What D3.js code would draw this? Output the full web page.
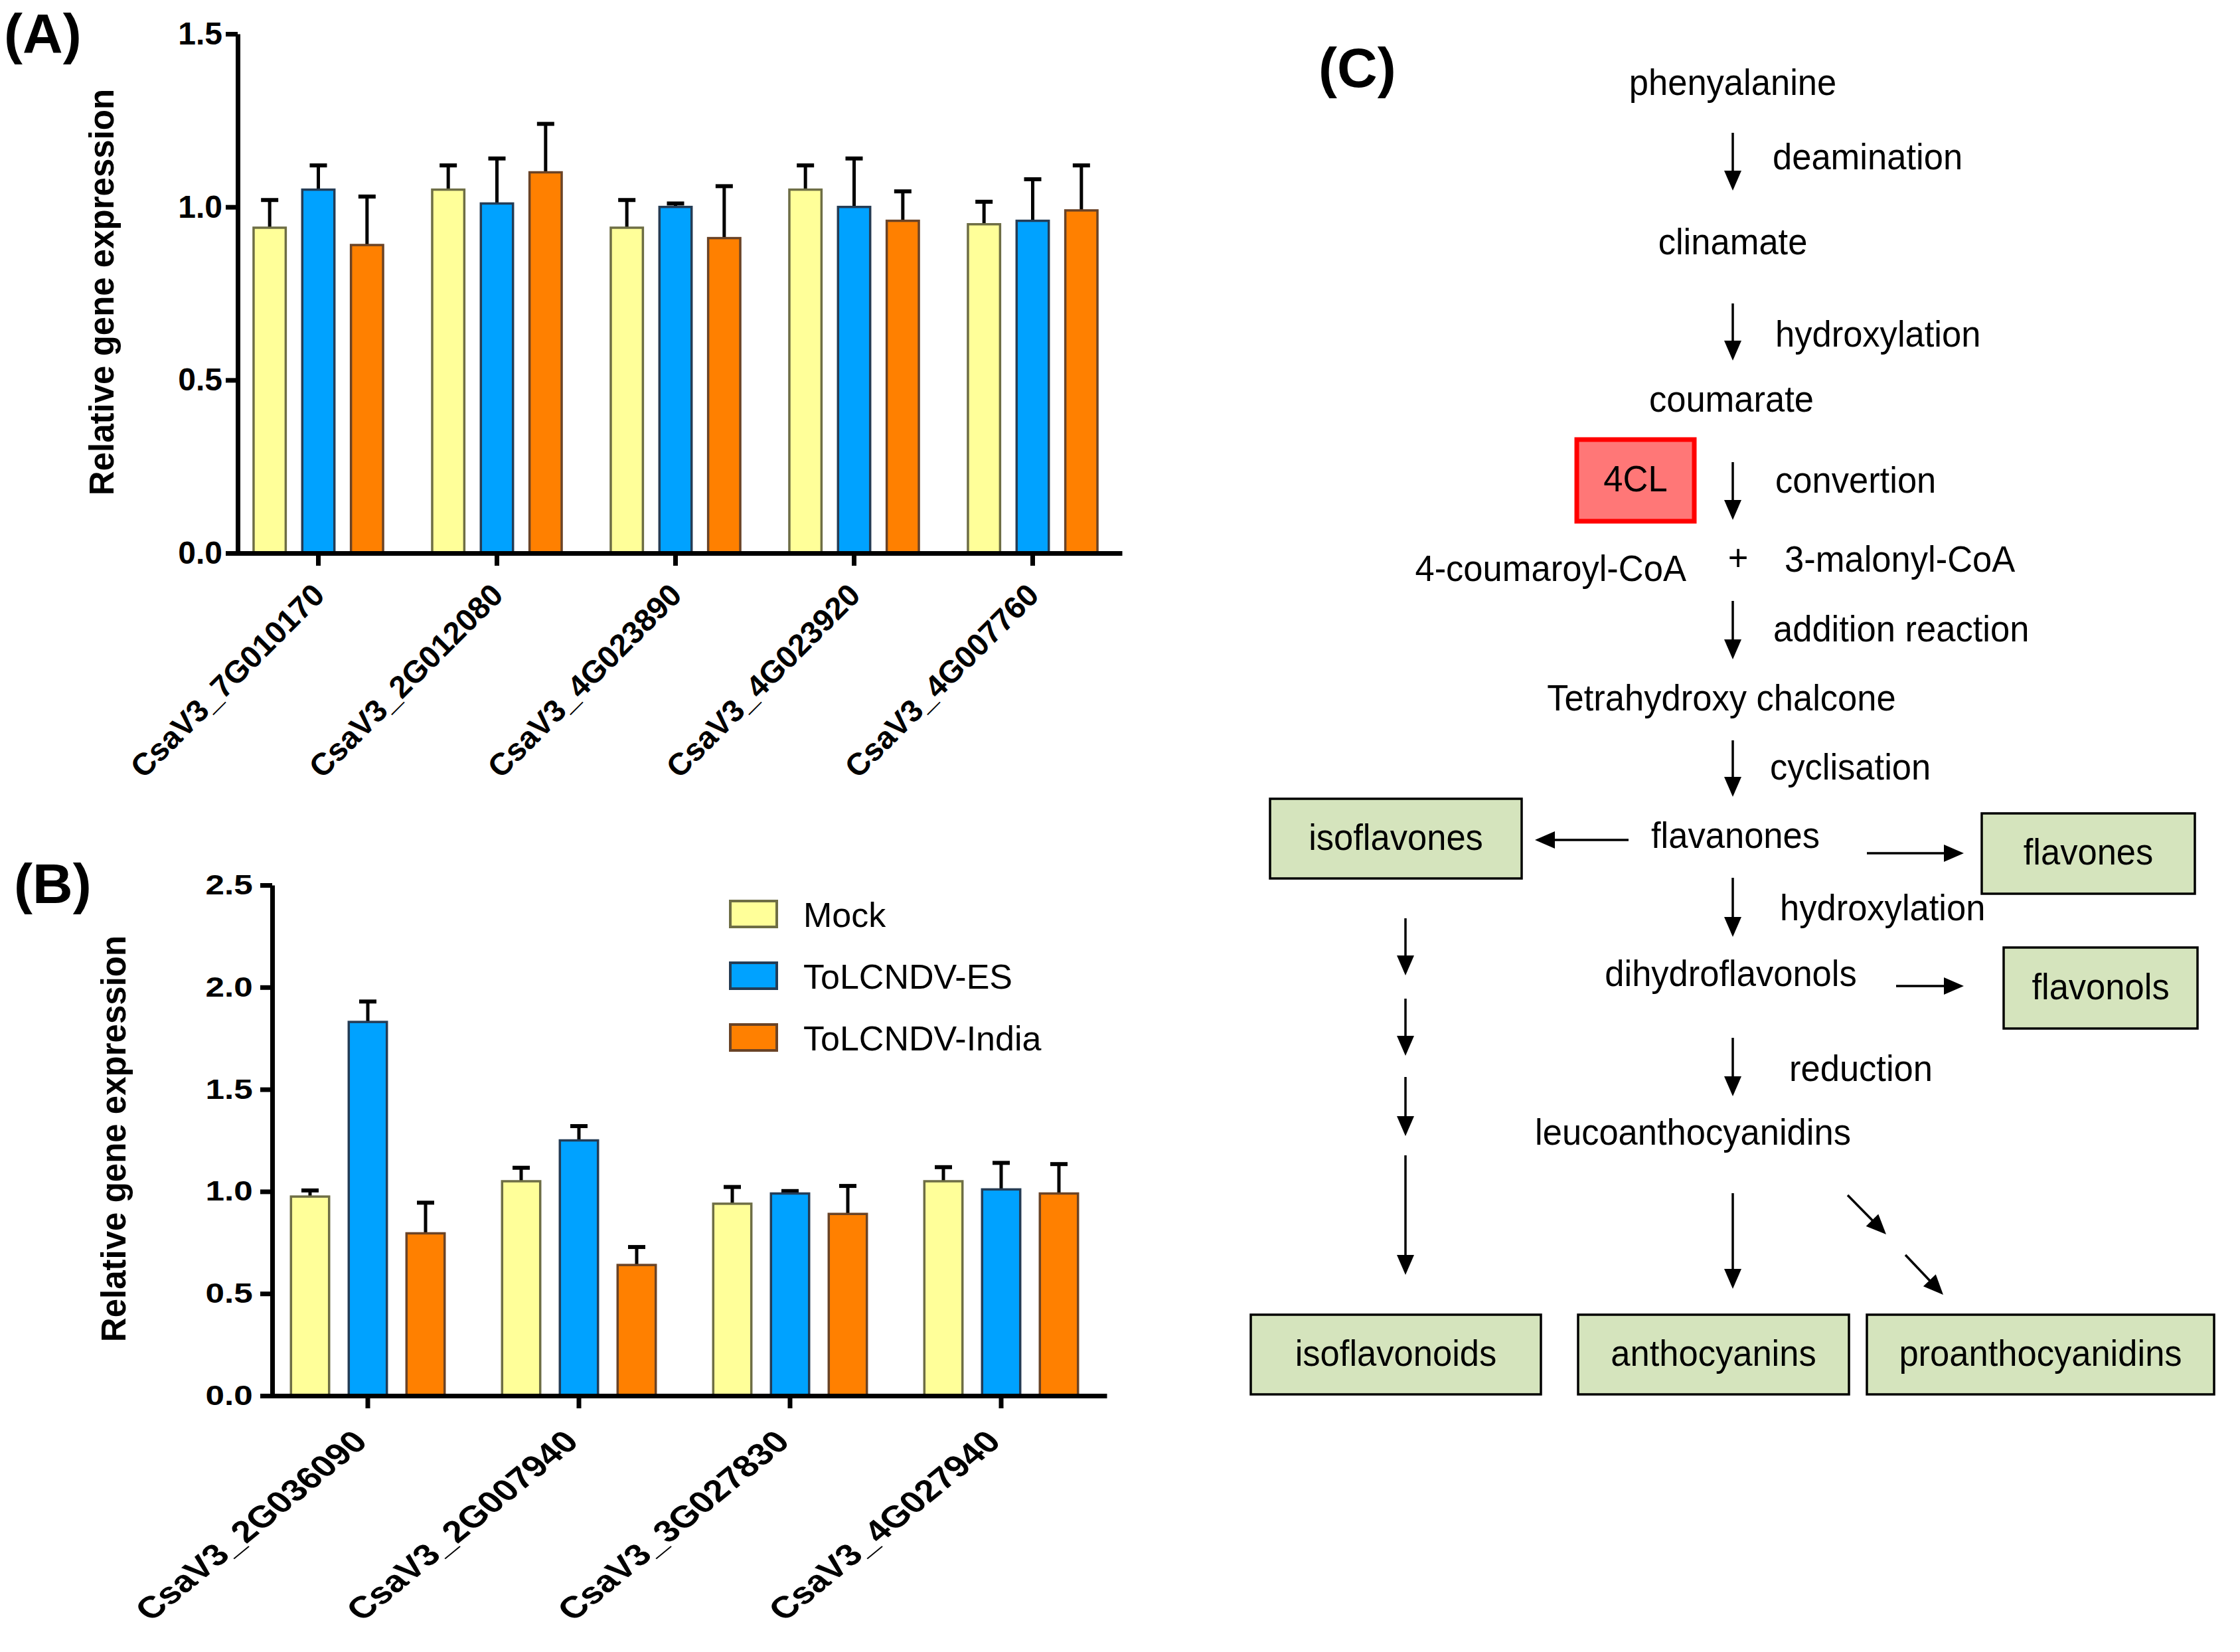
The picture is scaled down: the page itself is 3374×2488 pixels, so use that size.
<!DOCTYPE html>
<html lang="en">
<head>
<meta charset="UTF-8"/>
<title>4CL pathway and gene expression</title>
<script src="https://d3js.org/d3.v7.min.js"></script>
<style>
  body { margin: 0; background: #fff; }
  text { font-family: "Liberation Sans", Arial, sans-serif; fill: #000; }
  .axis path, .axis line { stroke: #000; stroke-width: 7px; fill: none; }
</style>
</head>
<body>
<svg id="fig" width="3374" height="2488"></svg>
<script>

// ---- data ----
var series = ["Mock", "ToLCNDV-ES", "ToLCNDV-India"]
var seriesFill = ["#ffff99", "#00a2ff", "#ff8000"]
var seriesEdge = ["#6e6e45", "#243c55", "#6a4326"]

// panel A
var genesA = ["CsaV3_7G010170", "CsaV3_2G012080", "CsaV3_4G023890", "CsaV3_4G023920", "CsaV3_4G007760"]
var mockA = [0.94, 1.05, 0.94, 1.05, 0.95]
var mockErrA = [0.08, 0.07, 0.08, 0.07, 0.065]
var esA = [1.05, 1.01, 1.00, 1.00, 0.96]
var esErrA = [0.07, 0.13, 0.01, 0.14, 0.12]
var indiaA = [0.89, 1.10, 0.91, 0.96, 0.99]
var indiaErrA = [0.14, 0.14, 0.15, 0.085, 0.13]
var ticksA = [0, 0.5, 1.0, 1.5]

// panel B
var genesB = ["CsaV3_2G036090", "CsaV3_2G007940", "CsaV3_3G027830", "CsaV3_4G027940"]
var mockB = [0.975, 1.05, 0.94, 1.05]
var mockErrB = [0.03, 0.066, 0.082, 0.069]
var esB = [1.83, 1.25, 0.99, 1.01]
var esErrB = [0.10, 0.07, 0.012, 0.13]
var indiaB = [0.795, 0.64, 0.89, 0.99]
var indiaErrB = [0.15, 0.088, 0.137, 0.144]
var ticksB = [0, 0.5, 1.0, 1.5, 2.0, 2.5]

// panel C: pathway labels
var flowText = [
  {t: "phenyalanine", x: 2610, y: 143, a: "middle"},
  {t: "deamination", x: 2670, y: 255, a: "start"},
  {t: "clinamate", x: 2610, y: 383, a: "middle"},
  {t: "hydroxylation", x: 2674, y: 522, a: "start"},
  {t: "coumarate", x: 2608, y: 620, a: "middle"},
  {t: "convertion", x: 2674, y: 742, a: "start"},
  {t: "4-coumaroyl-CoA", x: 2540, y: 875, a: "end"},
  {t: "+", x: 2618, y: 859, a: "middle"},
  {t: "3-malonyl-CoA", x: 2688, y: 861, a: "start"},
  {t: "addition reaction", x: 2671, y: 966, a: "start"},
  {t: "Tetrahydroxy chalcone", x: 2593, y: 1070, a: "middle"},
  {t: "cyclisation", x: 2666, y: 1174, a: "start"},
  {t: "flavanones", x: 2614, y: 1277, a: "middle"},
  {t: "hydroxylation", x: 2681, y: 1386, a: "start"},
  {t: "dihydroflavonols", x: 2607, y: 1485, a: "middle"},
  {t: "reduction", x: 2695, y: 1628, a: "start"},
  {t: "leucoanthocyanidins", x: 2550, y: 1724, a: "middle"}
]
var flowBoxes = [
  {t: "4CL", x0: 2375, y0: 662, x1: 2552, y1: 785, enzyme: true},
  {t: "isoflavones", x0: 1913, y0: 1203, x1: 2292, y1: 1323},
  {t: "flavones", x0: 2985, y0: 1225, x1: 3306, y1: 1346},
  {t: "flavonols", x0: 3018, y0: 1427, x1: 3310, y1: 1549},
  {t: "isoflavonoids", x0: 1884, y0: 1980, x1: 2321, y1: 2100},
  {t: "anthocyanins", x0: 2377, y0: 1980, x1: 2785, y1: 2100},
  {t: "proanthocyanidins", x0: 2812, y0: 1980, x1: 3335, y1: 2100}
]
var flowArrows = [
  [2610, 200, 2610, 287], [2610, 457, 2610, 543], [2610, 696, 2610, 783],
  [2610, 905, 2610, 993], [2610, 1115, 2610, 1200],
  [2453, 1265, 2312, 1265], [2812, 1285, 2958, 1285],
  [2610, 1322, 2610, 1411], [2856, 1485, 2958, 1485], [2610, 1563, 2610, 1651],
  [2117, 1383, 2117, 1469], [2117, 1504, 2117, 1590], [2117, 1622, 2117, 1711], [2117, 1740, 2117, 1920],
  [2610, 1797, 2610, 1941],
  [2783, 1800, 2841, 1859], [2870, 1890, 2927, 1950]
]

var svg = d3.select("#fig")
svg.append("rect").attr("width", 3374).attr("height", 2488).attr("fill", "#fff")

function panel(o) {
  var g = svg.append("g")
  var x0 = d3.scaleBand().domain(o.genes).range(o.xRange)
  var bw = x0.bandwidth()
  var x1 = d3.scaleBand().domain(series)
    .range([bw / 2 - o.groupHalf, bw / 2 + o.groupHalf])
    .paddingInner(0.34).paddingOuter(0.17)
  var y = d3.scaleLinear().domain([0, o.yMax]).range(o.yRange)

  var flat = []
  o.genes.forEach(function(gn, i) {
    series.forEach(function(s, k) {
      flat.push({gene: gn, s: s, k: k, v: o.vals[k][i], e: o.errs[k][i]})
    })
  })
  var cx = function(d) { return x0(d.gene) + x1(d.s) + x1.bandwidth() / 2 }

  // error bars (upper only)
  g.selectAll(".stem").data(flat).enter().append("line")
    .attr("x1", cx).attr("x2", cx)
    .attr("y1", function(d) { return y(d.v) })
    .attr("y2", function(d) { return y(d.v + d.e) })
    .attr("stroke", "#000").attr("stroke-width", 5)
  g.selectAll(".cap").data(flat).enter().append("line")
    .attr("x1", function(d) { return cx(d) - 13 })
    .attr("x2", function(d) { return cx(d) + 13 })
    .attr("y1", function(d) { return y(d.v + d.e) })
    .attr("y2", function(d) { return y(d.v + d.e) })
    .attr("stroke", "#000").attr("stroke-width", 6)

  g.selectAll(".bar").data(flat).enter().append("rect")
    .attr("x", function(d) { return x0(d.gene) + x1(d.s) })
    .attr("width", x1.bandwidth())
    .attr("y", function(d) { return y(d.v) })
    .attr("height", function(d) { return y(0) - y(d.v) })
    .attr("fill", function(d) { return seriesFill[d.k] })
    .attr("stroke", function(d) { return seriesEdge[d.k] })
    .attr("stroke-width", 3.5)

  // y axis
  var ya = g.append("g").attr("class", "axis")
    .attr("transform", "translate(" + o.yAxisX + ",0)")
    .call(d3.axisLeft(y).tickValues(o.ticks).tickFormat(d3.format(".1f"))
      .tickSize(18).tickSizeOuter(0).tickPadding(o.yPad))
  ya.selectAll("text")
    .style("font-size", o.yFont + "px").style("font-weight", "bold")
    .attr("transform", "scale(" + o.textStretch + ",1)")

  // x axis
  var xa = g.append("g").attr("class", "axis")
    .attr("transform", "translate(0," + y(0) + ")")
    .call(d3.axisBottom(x0).tickSize(19).tickSizeOuter(0))
  xa.selectAll("text")
    .attr("x", 0).attr("y", 0).attr("dy", null)
    .style("text-anchor", "end")
    .style("font-size", o.xFont + "px").style("font-weight", "bold")
    .attr("transform", "translate(" + o.xLabelOff[0] + "," + o.xLabelOff[1] + ") scale(" + o.textStretch + ",1) rotate(-45)")

  g.append("text")
    .attr("transform", "translate(" + o.titlePos[0] + "," + o.titlePos[1] + ") rotate(-90)")
    .style("text-anchor", "middle").style("font-size", "51px").style("font-weight", "bold")
    .text("Relative gene expression")

  g.append("text").attr("x", o.tag[1]).attr("y", o.tag[2])
    .style("font-size", "84px").style("font-weight", "bold")
    .text(o.tag[0])
  return g
}

panel({
  genes: genesA, vals: [mockA, esA, indiaA], errs: [mockErrA, esErrA, indiaErrA],
  xRange: [345, 1690], groupHalf: 110, yMax: 1.5, yRange: [833, 51], ticks: ticksA,
  yAxisX: 358, yPad: 5, yFont: 48, xFont: 47, textStretch: 1,
  xLabelOff: [12, 66], titlePos: [171, 440], tag: ["(A)", 6, 80]
})

var gB = panel({
  genes: genesB, vals: [mockB, esB, indiaB], errs: [mockErrB, esErrB, indiaErrB],
  xRange: [395, 1667], groupHalf: 130.5, yMax: 2.5, yRange: [2102, 1333], ticks: ticksB,
  yAxisX: 410, yPad: 6, yFont: 42, xFont: 46, textStretch: 1.22,
  xLabelOff: [2, 72], titlePos: [189, 1715], tag: ["(B)", 21, 1360]
})

// legend for B
var leg = gB.selectAll(".leg").data(series).enter().append("g")
  .attr("transform", function(d, i) { return "translate(1100," + (1357 + i * 93) + ")" })
leg.append("rect").attr("width", 70).attr("height", 39)
  .attr("fill", function(d, i) { return seriesFill[i] })
  .attr("stroke", function(d, i) { return seriesEdge[i] })
  .attr("stroke-width", 4)
leg.append("text").attr("x", 110).attr("y", 39)
  .style("font-size", "52px").text(function(d) { return d })

// ---- panel C: pathway ----
var gC = svg.append("g")
gC.append("text").attr("x", 1986).attr("y", 131)
  .style("font-size", "84px").style("font-weight", "bold").text("(C)")

gC.selectAll(".box").data(flowBoxes).enter().append("rect")
  .attr("x", function(d) { return d.x0 }).attr("y", function(d) { return d.y0 })
  .attr("width", function(d) { return d.x1 - d.x0 }).attr("height", function(d) { return d.y1 - d.y0 })
  .attr("fill", function(d) { return d.enzyme ? "#ff7777" : "#d5e4bd" })
  .attr("stroke", function(d) { return d.enzyme ? "#ff0000" : "#000" })
  .attr("stroke-width", function(d) { return d.enzyme ? 7 : 3.5 })

var fs = 55
gC.selectAll(".boxlab").data(flowBoxes).enter().append("text")
  .attr("transform", function(d) {
    return "translate(" + (d.x0 + d.x1) / 2 + "," + ((d.y0 + d.y1) / 2 + fs * 0.3) + ") scale(0.955,1)"
  })
  .style("text-anchor", "middle").style("font-size", fs + "px")
  .text(function(d) { return d.t })

gC.selectAll(".lab").data(flowText).enter().append("text")
  .attr("transform", function(d) { return "translate(" + d.x + "," + d.y + ") scale(0.955,1)" })
  .style("text-anchor", function(d) { return d.a })
  .style("font-size", fs + "px")
  .text(function(d) { return d.t })

// arrows: shaft + filled head
var headL = 30, headW = 13
flowArrows.forEach(function(a) {
  var dx = a[2] - a[0], dy = a[3] - a[1]
  var len = Math.sqrt(dx * dx + dy * dy)
  var ux = dx / len, uy = dy / len
  var bx = a[2] - ux * headL, by = a[3] - uy * headL
  gC.append("line")
    .attr("x1", a[0]).attr("y1", a[1]).attr("x2", bx + ux * 2).attr("y2", by + uy * 2)
    .attr("stroke", "#000").attr("stroke-width", 3.5)
  gC.append("path")
    .attr("d", d3.line()([
      [a[2], a[3]],
      [bx - uy * headW, by + ux * headW],
      [bx + uy * headW, by - ux * headW]
    ]) + "Z")
    .attr("fill", "#000")
})
</script>
</body>
</html>
